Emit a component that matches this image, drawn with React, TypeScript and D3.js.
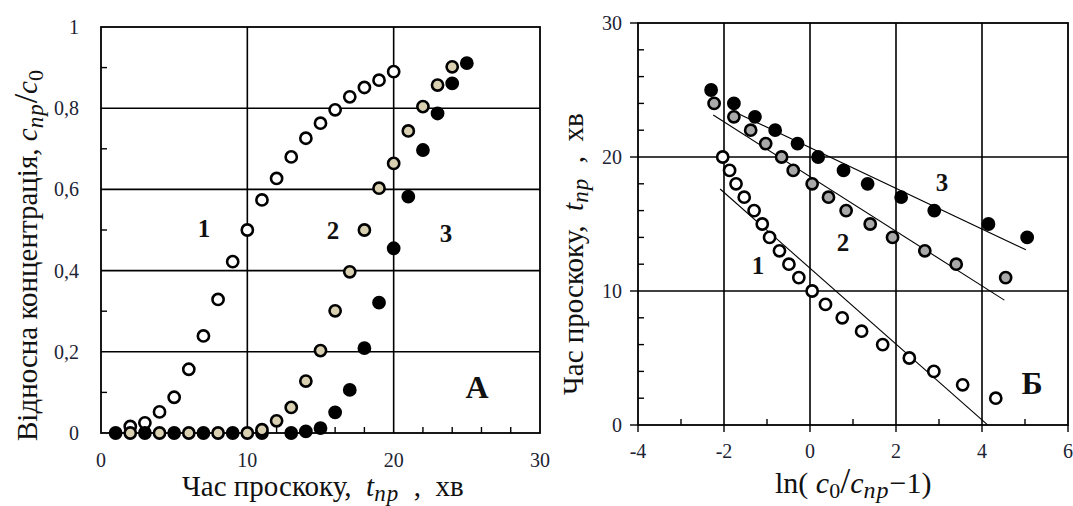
import * as d3 from "d3";

// Panel A: breakthrough curves, c_np/c_0 vs time (min)
const leftTime1 = [2, 3, 4, 5, 6, 7, 8, 9, 10, 11, 12, 13, 14, 15, 16, 17, 18, 19, 20];
const leftConc1 = [0.016, 0.025, 0.052, 0.088, 0.157, 0.239, 0.329, 0.422, 0.5, 0.574, 0.627, 0.68, 0.726, 0.763, 0.796, 0.828, 0.851, 0.869, 0.89];
const leftTime2 = [2, 4, 6, 8, 10, 11, 12, 13, 14, 15, 16, 17, 18, 19, 20, 21, 22, 23, 24];
const leftConc2 = [0, 0, 0, 0, 0, 0.008, 0.03, 0.063, 0.128, 0.203, 0.301, 0.397, 0.5, 0.603, 0.664, 0.744, 0.804, 0.857, 0.902];
const leftTime3 = [1, 3, 5, 7, 9, 11, 13, 14, 15, 16, 17, 18, 19, 20, 21, 22, 23, 24, 25];
const leftConc3 = [0, 0, 0, 0, 0, 0, 0, 0.004, 0.012, 0.051, 0.106, 0.209, 0.321, 0.455, 0.582, 0.697, 0.787, 0.861, 0.911];

const leftXTicks = [0, 10, 20, 30];
const leftXTickLabels = ["0", "10", "20", "30"];
const leftYTicks = [0, 0.2, 0.4, 0.6, 0.8, 1];
const leftYTickLabels = ["0", "0,2", "0,4", "0,6", "0,8", "1"];

// Panel Б: linearised, t_np vs ln(c0/c_np - 1)
const rightLn1 = [-2.03, -1.87, -1.72, -1.53, -1.3, -1.11, -0.94, -0.71, -0.49, -0.26, 0.05, 0.36, 0.75, 1.2, 1.69, 2.31, 2.88, 3.55, 4.32];
const rightT1 = [20, 19, 18, 17, 16, 15, 14, 13, 12, 11, 10, 9, 8, 7, 6, 5, 4, 3, 2];
const rightLn2 = [-2.23, -1.77, -1.38, -1.03, -0.66, -0.39, 0.05, 0.43, 0.84, 1.4, 1.92, 2.67, 3.4, 4.55];
const rightT2 = [24, 23, 22, 21, 20, 19, 18, 17, 16, 15, 14, 13, 12, 11];
const rightLn3 = [-2.3, -1.77, -1.28, -0.81, -0.29, 0.19, 0.78, 1.34, 2.12, 2.89, 4.15, 5.05];
const rightT3 = [25, 24, 23, 22, 21, 20, 19, 18, 17, 16, 15, 14];

// fitted lines t = a + b*x
const fitIntercept = [11.7, 18.54, 20.7];
const fitSlope = [-2.83, -2.04, -1.52];
const fitFrom = [-2.09, -2.25, -1.8];
const fitTo = [4.13, 4.52, 5.02];

const rightXTicks = [-4, -2, 0, 2, 4, 6];
const rightXTickLabels = ["-4", "-2", "0", "2", "4", "6"];
const rightYTicks = [0, 10, 20, 30];
const rightYTickLabels = ["0", "10", "20", "30"];

const serif = "Liberation Serif";
const tan = "#d8d0b0";
const grey = "#a9a9a9";

const zip = (xs, ys) => xs.map((x, i) => ({ x, y: ys[i] }));

const Dots = ({ data, xScale, yScale, fill, r = 5.6 }) => (
  <g>
    {data.map((d, i) => (
      <circle
        key={i}
        cx={xScale(d.x)}
        cy={yScale(d.y)}
        r={r}
        fill={fill}
        stroke="#000"
        strokeWidth={2.6}
      />
    ))}
  </g>
);

// "Час проскоку, t_пр , хв"
const TimeTitle = ({ transform, x = 0, y = 0 }) => (
  <text x={x} y={y} transform={transform} fontFamily={serif} fontSize={29} fill="#111">
    Час проскоку,{"\u00a0\u00a0"}
    <tspan fontStyle="italic">t</tspan>
    <tspan fontStyle="italic" fontSize={23} dy={5} letterSpacing={1}>пр</tspan>
    <tspan dy={-5}>{"\u00a0\u00a0,\u00a0\u00a0хв"}</tspan>
  </text>
);

const LeftPanel = () => {
  const x = d3.scaleLinear().domain([0, 30]).range([101, 540]);
  const y = d3.scaleLinear().domain([0, 1]).range([433, 27]);
  const minorX = d3.range(2, 30, 2).filter((v) => v % 10 !== 0);
  const minorY = d3.range(0.1, 1, 0.2);
  return (
    <g>
      {[0.2, 0.4, 0.6, 0.8].map((v) => (
        <line key={"gy" + v} x1={x(0)} x2={x(30)} y1={y(v)} y2={y(v)} stroke="#000" strokeWidth={1.6} />
      ))}
      {[10, 20].map((v) => (
        <line key={"gx" + v} x1={x(v)} x2={x(v)} y1={y(0)} y2={y(1)} stroke="#000" strokeWidth={1.6} />
      ))}
      <rect x={x(0)} y={y(1)} width={x(30) - x(0)} height={y(0) - y(1)} fill="none" stroke="#000" strokeWidth={1.8} />
      {minorX.map((v) => (
        <line key={"mx" + v} x1={x(v)} x2={x(v)} y1={y(0)} y2={y(0) - 6} stroke="#000" strokeWidth={1.4} />
      ))}
      {minorY.map((v) => (
        <line key={"my" + v} x1={x(0)} x2={x(0) + 6} y1={y(v)} y2={y(v)} stroke="#000" strokeWidth={1.4} />
      ))}
      {leftYTicks.map((v, i) => (
        <text key={"ly" + v} x={79} y={y(v)} dy="0.35em" textAnchor="end" fontFamily={serif} fontSize={20} fill="#1c2333">
          {leftYTickLabels[i]}
        </text>
      ))}
      {leftXTicks.map((v, i) => (
        <text key={"lx" + v} x={x(v)} y={467} textAnchor="middle" fontFamily={serif} fontSize={20} fill="#1c2333">
          {leftXTickLabels[i]}
        </text>
      ))}

      <Dots data={zip(leftTime1, leftConc1)} xScale={x} yScale={y} fill="#fff" />
      <Dots data={zip(leftTime3, leftConc3)} xScale={x} yScale={y} fill="#000" />
      <Dots data={zip(leftTime2, leftConc2)} xScale={x} yScale={y} fill={tan} />

      <g fontWeight="bold" fontSize={25} fill="#111" fontFamily={serif}>
        <text x={204} y={237} textAnchor="middle">1</text>
        <text x={333} y={239} textAnchor="middle">2</text>
        <text x={446} y={242} textAnchor="middle">3</text>
      </g>
      <text x={477} y={398} textAnchor="middle" fontFamily={serif} fontWeight="bold" fontSize={32} fill="#111">А</text>

      <TimeTitle x={182} y={496} />
      <text transform="translate(37,441) rotate(-90)" fontFamily={serif} fontSize={29} fill="#111">
        Відносна концентрація,{"\u00a0"}
        <tspan fontStyle="italic">c</tspan>
        <tspan fontStyle="italic" fontSize={23} dy={6} letterSpacing={1}>пр</tspan>
        <tspan dy={-6} fontSize={34}>/</tspan>
        <tspan fontStyle="italic">c</tspan>
        <tspan fontSize={22} dy={6}>0</tspan>
      </text>
    </g>
  );
};

const RightPanel = () => {
  const x = d3.scaleLinear().domain([-4, 6]).range([638, 1068]);
  const y = d3.scaleLinear().domain([0, 30]).range([425, 23]);
  const minorX = d3.range(-3, 6, 2);
  const minorY = d3.range(2, 30, 2).filter((v) => v % 10 !== 0);
  const line = d3.line().x((d) => x(d[0])).y((d) => y(d[1]));
  const fits = fitIntercept.map((a, i) => [
    [fitFrom[i], a + fitSlope[i] * fitFrom[i]],
    [fitTo[i], a + fitSlope[i] * fitTo[i]],
  ]);
  return (
    <g>
      {[10, 20].map((v) => (
        <line key={"gy" + v} x1={x(-4)} x2={x(6)} y1={y(v)} y2={y(v)} stroke="#000" strokeWidth={1.6} />
      ))}
      {[-2, 0, 2, 4].map((v) => (
        <line key={"gx" + v} x1={x(v)} x2={x(v)} y1={y(0)} y2={y(30)} stroke="#000" strokeWidth={1.6} />
      ))}
      <rect x={x(-4)} y={y(30)} width={x(6) - x(-4)} height={y(0) - y(30)} fill="none" stroke="#000" strokeWidth={1.8} />
      {minorX.map((v) => (
        <line key={"mx" + v} x1={x(v)} x2={x(v)} y1={y(0)} y2={y(0) - 6} stroke="#000" strokeWidth={1.4} />
      ))}
      {rightXTicks.map((v) => (
        <line key={"Mx" + v} x1={x(v)} x2={x(v)} y1={y(0)} y2={y(0) + 7} stroke="#000" strokeWidth={1.4} />
      ))}
      {minorY.map((v) => (
        <line key={"my" + v} x1={x(-4)} x2={x(-4) + 6} y1={y(v)} y2={y(v)} stroke="#000" strokeWidth={1.4} />
      ))}
      {rightYTicks.map((v) => (
        <line key={"My" + v} x1={x(-4) - 8} x2={x(-4)} y1={y(v)} y2={y(v)} stroke="#000" strokeWidth={1.4} />
      ))}
      {rightYTicks.map((v, i) => (
        <text key={"ry" + v} x={622} y={y(v)} dy="0.35em" textAnchor="end" fontFamily={serif} fontSize={20} fill="#1c2333">
          {rightYTickLabels[i]}
        </text>
      ))}
      {rightXTicks.map((v, i) => (
        <text key={"rx" + v} x={x(v)} y={458} textAnchor="middle" fontFamily={serif} fontSize={20} fill="#1c2333">
          {rightXTickLabels[i]}
        </text>
      ))}

      {fits.map((f, i) => (
        <path key={"fit" + i} d={line(f)} fill="none" stroke="#000" strokeWidth={1.1} />
      ))}

      <Dots data={zip(rightLn1, rightT1)} xScale={x} yScale={y} fill="#fff" />
      <Dots data={zip(rightLn3, rightT3)} xScale={x} yScale={y} fill="#000" />
      <Dots data={zip(rightLn2, rightT2)} xScale={x} yScale={y} fill={grey} />

      <g fontWeight="bold" fontSize={25} fill="#111" fontFamily={serif}>
        <text x={758} y={274} textAnchor="middle">1</text>
        <text x={843} y={251} textAnchor="middle">2</text>
        <text x={942} y={191} textAnchor="middle">3</text>
      </g>
      <text x={1032} y={394} textAnchor="middle" fontFamily={serif} fontWeight="bold" fontSize={32} fill="#111">Б</text>

      <text x={775} y={493} fontFamily={serif} fontSize={30} fill="#111">
        ln(
        <tspan fontStyle="italic">{"\u00a0c"}</tspan>
        <tspan fontSize={22} dy={5}>0</tspan>
        <tspan dy={-5} fontSize={36}>/</tspan>
        <tspan fontStyle="italic">c</tspan>
        <tspan fontStyle="italic" fontSize={24} dy={5} letterSpacing={1}>пр</tspan>
        <tspan dy={-5}>−1)</tspan>
      </text>
      <TimeTitle transform="translate(583,395) rotate(-90)" />
    </g>
  );
};

export default function App() {
  return (
    <svg
      width={1073}
      height={506}
      viewBox="0 0 1073 506"
      style={{ position: "absolute", left: 0, top: 0, background: "#fff" }}
    >
      <rect width={1073} height={506} fill="#fff" />
      <LeftPanel />
      <RightPanel />
    </svg>
  );
}
